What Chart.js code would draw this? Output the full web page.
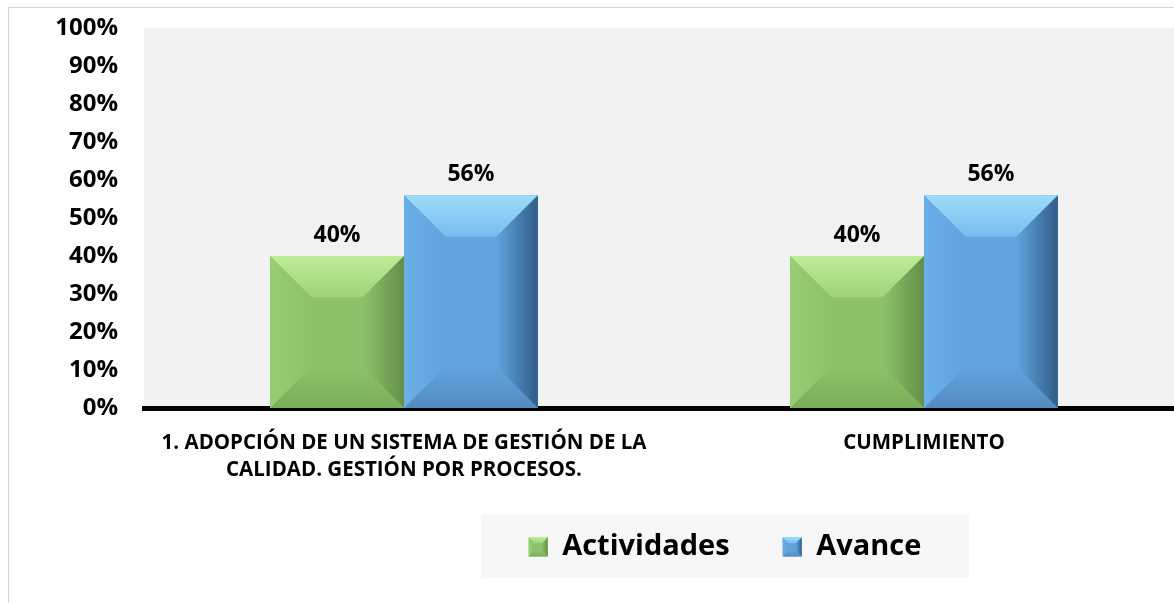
<!DOCTYPE html>
<html><head><meta charset="utf-8">
<script src="https://cdn.jsdelivr.net/npm/chart.js@4.4.0/dist/chart.umd.min.js"></script>
<style>
html,body{margin:0;padding:0;background:#fff;overflow:hidden;width:1174px;height:603px;}
#frame{position:absolute;left:8px;top:7px;width:1200px;height:700px;border-left:1px solid #d4d4d4;border-top:1px solid #d4d4d4;}
#wrap{position:absolute;left:0;top:0;width:1190px;height:603px;}
</style></head><body>
<div id="frame"></div>
<div id="wrap"><canvas id="c" width="1190" height="603"></canvas></div>
<script>
const categories = [["1. ADOPCIÓN DE UN SISTEMA DE GESTIÓN DE LA", "CALIDAD. GESTIÓN POR PROCESOS."], "CUMPLIMIENTO"];
const seriesNames = ["Actividades", "Avance"];
const actividades = [40, 40];
const avance = [56, 56];
const yTickValues = [0, 10, 20, 30, 40, 50, 60, 70, 80, 90, 100];

const FONT = "'Open Sans', 'DejaVu Sans', sans-serif";
const palettes = [
  {base:'#8cc26a', top:'#c0ec98', topMid:'#9fd27a', left:'#98cd74', right:'#658f48', bottom:'#7aae58'},
  {base:'#60a3dd', top:'#9cdcfb', topMid:'#78bcec', left:'#6bafe8', right:'#315d89', bottom:'#548bc0'}
];

function poly(ctx, pts, fill) {
  ctx.beginPath();
  ctx.moveTo(pts[0][0], pts[0][1]);
  for (let i = 1; i < pts.length; i++) ctx.lineTo(pts[i][0], pts[i][1]);
  ctx.closePath();
  ctx.fillStyle = fill;
  ctx.fill();
}

function bevel(ctx, l, r, t, b, p, frac) {
  const d = Math.min((r - l) * frac, (b - t) / 2);
  let g = ctx.createLinearGradient(0, t, 0, t + d);
  g.addColorStop(0, p.top); g.addColorStop(1, p.topMid);
  poly(ctx, [[l, t], [r, t], [r - d, t + d], [l + d, t + d]], g);
  g = ctx.createLinearGradient(0, b - d, 0, b);
  g.addColorStop(0, p.base); g.addColorStop(1, p.bottom);
  poly(ctx, [[l, b], [r, b], [r - d, b - d], [l + d, b - d]], g);
  g = ctx.createLinearGradient(l, 0, l + d, 0);
  g.addColorStop(0, p.left); g.addColorStop(1, p.base);
  poly(ctx, [[l, t], [l + d, t + d], [l + d, b - d], [l, b]], g);
  g = ctx.createLinearGradient(r - d, 0, r, 0);
  g.addColorStop(0, p.base); g.addColorStop(1, p.right);
  poly(ctx, [[r, t], [r - d, t + d], [r - d, b - d], [r, b]], g);
}

const bgPlugin = {
  id: 'bg',
  afterLayout(chart) {
    const lg = chart.legend;
    if (lg) {
      const shift = 725 - (lg.left + lg.right) / 2;
      lg.left += shift; lg.right += shift;
    }
  },
  beforeDraw(chart) {
    const {ctx, chartArea} = chart;
    ctx.save();
    ctx.fillStyle = '#f2f2f2';
    ctx.fillRect(chartArea.left, chartArea.top, chartArea.right - chartArea.left, chartArea.bottom - chartArea.top);
    const lg = chart.legend;
    if (lg) {
      const cx = (lg.left + lg.right) / 2;
      const cy = lg.top + lg.options.labels.padding + 14.5;
      ctx.fillStyle = '#f7f7f7';
      ctx.fillRect(cx - 244, cy - 32, 488, 63);
    }
    ctx.restore();
  },
  afterDraw(chart) {
    const lg = chart.legend;
    if (!lg || !lg.legendHitBoxes) return;
    const ctx = chart.ctx;
    const bw = lg.options.labels.boxWidth, bh = lg.options.labels.boxHeight;
    ctx.save();
    lg.legendHitBoxes.forEach((hb, i) => {
      const t = hb.top + (hb.height - bh) / 2;
      bevel(ctx, hb.left, hb.left + bw, t, t + bh, palettes[i], 0.3);
    });
    ctx.restore();
  }
};

const bevelPlugin = {
  id: 'bevel',
  afterDatasetsDraw(chart) {
    const ctx = chart.ctx;
    ctx.save();
    chart.data.datasets.forEach((ds, di) => {
      chart.getDatasetMeta(di).data.forEach(bar => {
        const {x, y, base, width} = bar.getProps(['x', 'y', 'base', 'width'], true);
        bevel(ctx, x - width / 2, x + width / 2, y, base, palettes[di], 0.31);
      });
    });
    ctx.restore();
  }
};

const labelPlugin = {
  id: 'vlabels',
  afterDatasetsDraw(chart) {
    const ctx = chart.ctx;
    ctx.save();
    ctx.font = "bold 23px " + FONT;
    ctx.fillStyle = '#000';
    ctx.textAlign = 'center';
    ctx.textBaseline = 'alphabetic';
    chart.data.datasets.forEach((ds, di) => {
      chart.getDatasetMeta(di).data.forEach((bar, i) => {
        ctx.fillText(ds.data[i] + '%', bar.x, bar.y - 14);
      });
    });
    ctx.restore();
  }
};

new Chart(document.getElementById('c'), {
  type: 'bar',
  data: {
    labels: categories,
    datasets: [
      {label: seriesNames[0], data: actividades, backgroundColor: palettes[0].base, borderWidth: 0},
      {label: seriesNames[1], data: avance, backgroundColor: palettes[1].base, borderWidth: 0}
    ]
  },
  options: {
    responsive: false,
    animation: false,
    layout: {padding: {top: 28, left: 0, right: 6, bottom: 31.5}},
    datasets: {bar: {categoryPercentage: 0.515, barPercentage: 1}},
    plugins: {
      tooltip: {enabled: false},
      legend: {
        position: 'bottom',
        labels: {
          color: '#000',
          font: {family: FONT, size: 29, weight: 'bold'},
          boxWidth: 19, boxHeight: 19, padding: 53
        }
      }
    },
    scales: {
      x: {
        grid: {display: false},
        border: {display: true, color: '#000', width: 5},
        ticks: {color: '#000', font: {family: FONT, size: 20.5, weight: 'bold', lineHeight: 1.3}, padding: 14, maxRotation: 0, autoSkip: false},
        afterFit(scale) {
          const lh = (scale.chart.legend && scale.chart.legend.height) || 92;
          scale.height = 603 - 408 - lh - 31.5;
        }
      },
      y: {
        min: 0, max: 100,
        grid: {display: false, drawTicks: false},
        border: {display: false},
        afterBuildTicks(scale) { scale.ticks = yTickValues.map(v => ({value: v})); },
        ticks: {color: '#000', font: {family: FONT, size: 24, weight: 'bold'}, padding: 26, callback: v => v + '%'},
        afterFit(scale) { scale.width = 144; scale.paddingTop = 0; scale.paddingBottom = 0; }
      }
    }
  },
  plugins: [bgPlugin, bevelPlugin, labelPlugin]
});
</script>
</body></html>
